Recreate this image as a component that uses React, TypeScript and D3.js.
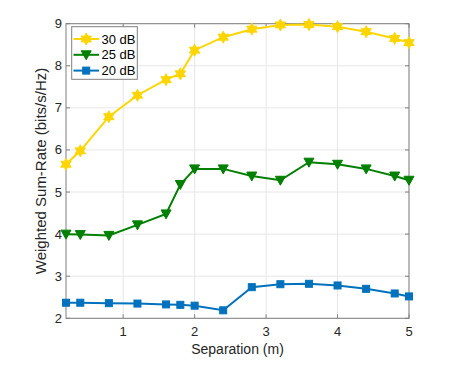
import React from "react";
import * as d3 from "d3";

const separation = [0.2, 0.4, 0.8, 1.2, 1.6, 1.8, 2.0, 2.4, 2.8, 3.2, 3.6, 4.0, 4.4, 4.8, 5.0];
const rate30 = [5.66, 5.98, 6.79, 7.3, 7.67, 7.81, 8.37, 8.68, 8.87, 8.97, 8.98, 8.93, 8.81, 8.65, 8.55];
const rate25 = [4.0, 3.99, 3.97, 4.22, 4.48, 5.18, 5.55, 5.55, 5.38, 5.28, 5.71, 5.66, 5.55, 5.38, 5.28];
const rate20 = [2.37, 2.37, 2.36, 2.35, 2.33, 2.32, 2.3, 2.19, 2.74, 2.81, 2.82, 2.78, 2.7, 2.59, 2.52];
const xTicks = [1, 2, 3, 4, 5];
const yTicks = [2, 3, 4, 5, 6, 7, 8, 9];

const series = [
  { name: "30 dB", values: rate30, color: "#FFD500", marker: "hex" },
  { name: "25 dB", values: rate25, color: "#008000", marker: "tri" },
  { name: "20 dB", values: rate20, color: "#0072BD", marker: "sq" },
];

const W = 450, H = 365;
const m = { left: 66, right: 41, top: 23.7, bottom: 46.7 };

const x = d3.scaleLinear().domain([0.2, 5]).range([m.left, W - m.right]);
const y = d3.scaleLinear().domain([2, 9]).range([H - m.bottom, m.top]);

// six-point star
const hexagram = (r: number) => {
  const pts: [number, number][] = [];
  for (let i = 0; i < 12; i++) {
    const a = (Math.PI / 6) * i - Math.PI / 2;
    const rr = i % 2 === 0 ? r : r * 0.55;
    pts.push([rr * Math.cos(a), rr * Math.sin(a)]);
  }
  return "M" + pts.map((p) => p.join(",")).join("L") + "Z";
};

const Marker = ({ kind, cx, cy, color }: { kind: string; cx: number; cy: number; color: string }) => {
  if (kind === "hex")
    return <path d={hexagram(6)} transform={`translate(${cx},${cy})`} fill={color} stroke={color} strokeWidth={1} />;
  if (kind === "tri")
    return <path d="M-5,-4L5,-4L0,5Z" transform={`translate(${cx},${cy})`} fill={color} stroke={color} strokeWidth={1} />;
  return <rect x={cx - 3.5} y={cy - 3.5} width={7} height={7} fill={color} stroke={color} strokeWidth={1} />;
};

const line = d3
  .line<number>()
  .x((_, i) => x(separation[i]))
  .y((d) => y(d));

export default function App() {
  const font = "'Liberation Sans', Arial, sans-serif";
  const axisColor = "#808080";
  const x0 = m.left, x1 = W - m.right, y0 = H - m.bottom, y1 = m.top;
  return (
    <svg width={W} height={H} style={{ position: "absolute", left: 0, top: 0, background: "#fff" }} fontFamily={font}>
      {/* grid */}
      {xTicks.map((t) => (
        <line key={"gx" + t} x1={x(t)} x2={x(t)} y1={y0} y2={y1} stroke="#e6e6e6" strokeWidth={1} />
      ))}
      {yTicks.map((t) => (
        <line key={"gy" + t} x1={x0} x2={x1} y1={y(t)} y2={y(t)} stroke="#e6e6e6" strokeWidth={1} />
      ))}
      {/* box */}
      <rect x={x0} y={y1} width={x1 - x0} height={y0 - y1} fill="none" stroke={axisColor} strokeWidth={1} />
      {/* ticks */}
      {xTicks.map((t) => (
        <g key={"tx" + t}>
          <line x1={x(t)} x2={x(t)} y1={y0} y2={y0 - 4} stroke={axisColor} />
          <line x1={x(t)} x2={x(t)} y1={y1} y2={y1 + 4} stroke={axisColor} />
          <text x={x(t)} y={y0 + 18} textAnchor="middle" fontSize={13} fill="#262626">{t}</text>
        </g>
      ))}
      {yTicks.map((t) => (
        <g key={"ty" + t}>
          <line x1={x0} x2={x0 + 4} y1={y(t)} y2={y(t)} stroke={axisColor} />
          <line x1={x1} x2={x1 - 4} y1={y(t)} y2={y(t)} stroke={axisColor} />
          <text x={x0 - 4} y={y(t) + 4.5} textAnchor="end" fontSize={13} fill="#262626">{t}</text>
        </g>
      ))}
      {/* series */}
      {series.map((s) => (
        <g key={s.name}>
          <path d={line(s.values) || ""} fill="none" stroke={s.color} strokeWidth={2} />
          {s.values.map((v, i) => (
            <Marker key={i} kind={s.marker} cx={x(separation[i])} cy={y(v)} color={s.color} />
          ))}
        </g>
      ))}
      {/* legend */}
      <rect x={71.7} y={26.7} width={65.6} height={52.6} fill="#fff" stroke={axisColor} strokeWidth={1} />
      {series.map((s, i) => {
        const ly = 39 + i * 15.8;
        return (
          <g key={"lg" + s.name}>
            <line x1={73.5} x2={99} y1={ly} y2={ly} stroke={s.color} strokeWidth={2} />
            <Marker kind={s.marker} cx={86.2} cy={ly} color={s.color} />
            <text x={101.5} y={ly + 4.5} fontSize={13} fill="#000">{s.name}</text>
          </g>
        );
      })}
      {/* labels */}
      <text x={(x0 + x1) / 2} y={354} textAnchor="middle" fontSize={14} fill="#262626">Separation (m)</text>
      <text
        transform={`translate(${46},${(y0 + y1) / 2}) rotate(-90)`}
        textAnchor="middle"
        fontSize={15}
        fill="#262626"
      >
        Weighted Sum-Rate (bits/s/Hz)
      </text>
    </svg>
  );
}
